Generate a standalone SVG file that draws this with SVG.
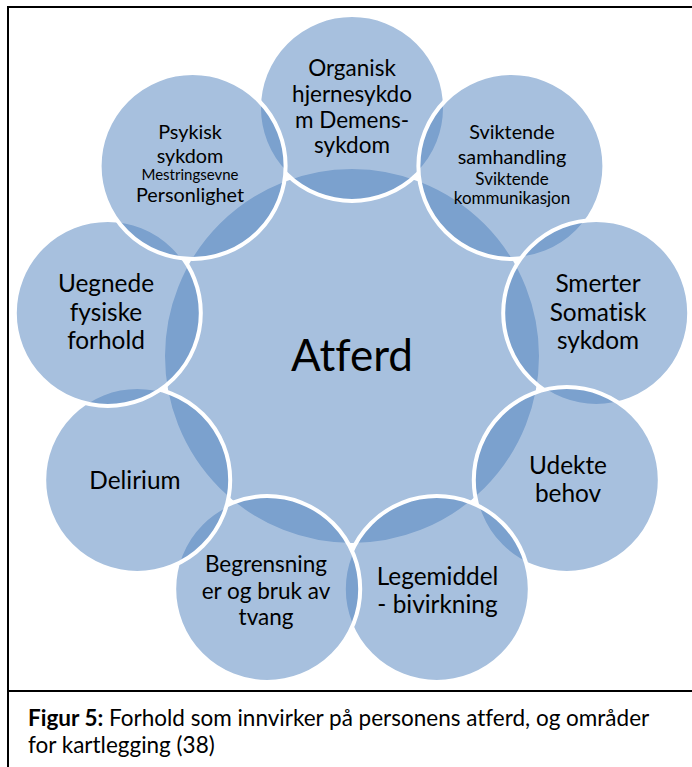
<svg xmlns="http://www.w3.org/2000/svg" width="692" height="767" viewBox="0 0 692 767">
<style>
.c{fill:#4F81BD;fill-opacity:0.5;stroke:#FFFFFF;stroke-width:4}
.t{font-family:Lato,"Liberation Sans",sans-serif;fill:#000;text-anchor:middle;font-variant-ligatures:none}
.f26{font-size:24.4px}.f24{font-size:22.5px}.f21{font-size:19.8px}.f18{font-size:17px}.f16{font-size:15px}
.cap{font-family:Lato,"Liberation Sans",sans-serif;font-size:22.5px;fill:#000;font-variant-ligatures:none}
.b{fill:none;stroke:#000;stroke-width:2}
</style>
<rect x="0" y="0" width="692" height="767" fill="#fff"/>
<g id="frame">
<path class="b" d="M8 767V7H692M8 691H692"/>
</g>
<g id="center">
<circle class="c" cx="352" cy="356" r="189"/>
<text class="t" x="352" y="371" style="font-size:44px">Atferd</text>
</g>
<g id="n1">
<circle class="c" cx="352" cy="108" r="93"/>
<text class="t f24"><tspan x="352" y="76">Organisk</tspan><tspan x="352" y="102">hjernesykdo</tspan><tspan x="352" y="128">m Demens-</tspan><tspan x="352" y="153">sykdom</tspan></text>
</g>
<g id="n2">
<circle class="c" cx="511.4" cy="166" r="93"/>
<text class="t"><tspan class="f21" x="512" y="139">Sviktende</tspan><tspan class="f21" x="512" y="164">samhandling</tspan><tspan class="f18" x="512" y="185">Sviktende</tspan><tspan class="f18" x="512" y="204">kommunikasjon</tspan></text>
</g>
<g id="n3">
<circle class="c" cx="596.2" cy="312.9" r="93"/>
<text class="t f26"><tspan x="598" y="292">Smerter</tspan><tspan x="598" y="321">Somatisk</tspan><tspan x="598" y="349">sykdom</tspan></text>
</g>
<g id="n4">
<circle class="c" cx="566.8" cy="480" r="93"/>
<text class="t f26"><tspan x="568" y="474">Udekte</tspan><tspan x="568" y="502">behov</tspan></text>
</g>
<g id="n5">
<circle class="c" cx="436.8" cy="589" r="93"/>
<text class="t f26"><tspan x="437.5" y="585">Legemiddel</tspan><tspan x="437.5" y="613">- bivirkning</tspan></text>
</g>
<g id="n6">
<circle class="c" cx="267.2" cy="589" r="93"/>
<text class="t f24"><tspan x="266" y="572">Begrensning</tspan><tspan x="266" y="599">er og bruk av</tspan><tspan x="266" y="625">tvang</tspan></text>
</g>
<g id="n7">
<circle class="c" cx="137.2" cy="480" r="93"/>
<text class="t f26" x="135" y="489">Delirium</text>
</g>
<g id="n8">
<circle class="c" cx="107.8" cy="312.9" r="93"/>
<text class="t f26"><tspan x="106" y="292">Uegnede</tspan><tspan x="106" y="321">fysiske</tspan><tspan x="106" y="349">forhold</tspan></text>
</g>
<g id="n9">
<circle class="c" cx="192.6" cy="166" r="93"/>
<text class="t"><tspan class="f21" x="190" y="139">Psykisk</tspan><tspan class="f21" x="190" y="163">sykdom</tspan><tspan class="f16" x="190" y="180">Mestringsevne</tspan><tspan class="f21" x="190" y="202">Personlighet</tspan></text>
</g>
<g id="caption">
<text class="cap" x="28" y="726"><tspan font-weight="bold">Figur 5:</tspan> Forhold som innvirker på personens atferd, og områder</text>
<text class="cap" x="28" y="753">for kartlegging (38)</text>
</g>
</svg>
